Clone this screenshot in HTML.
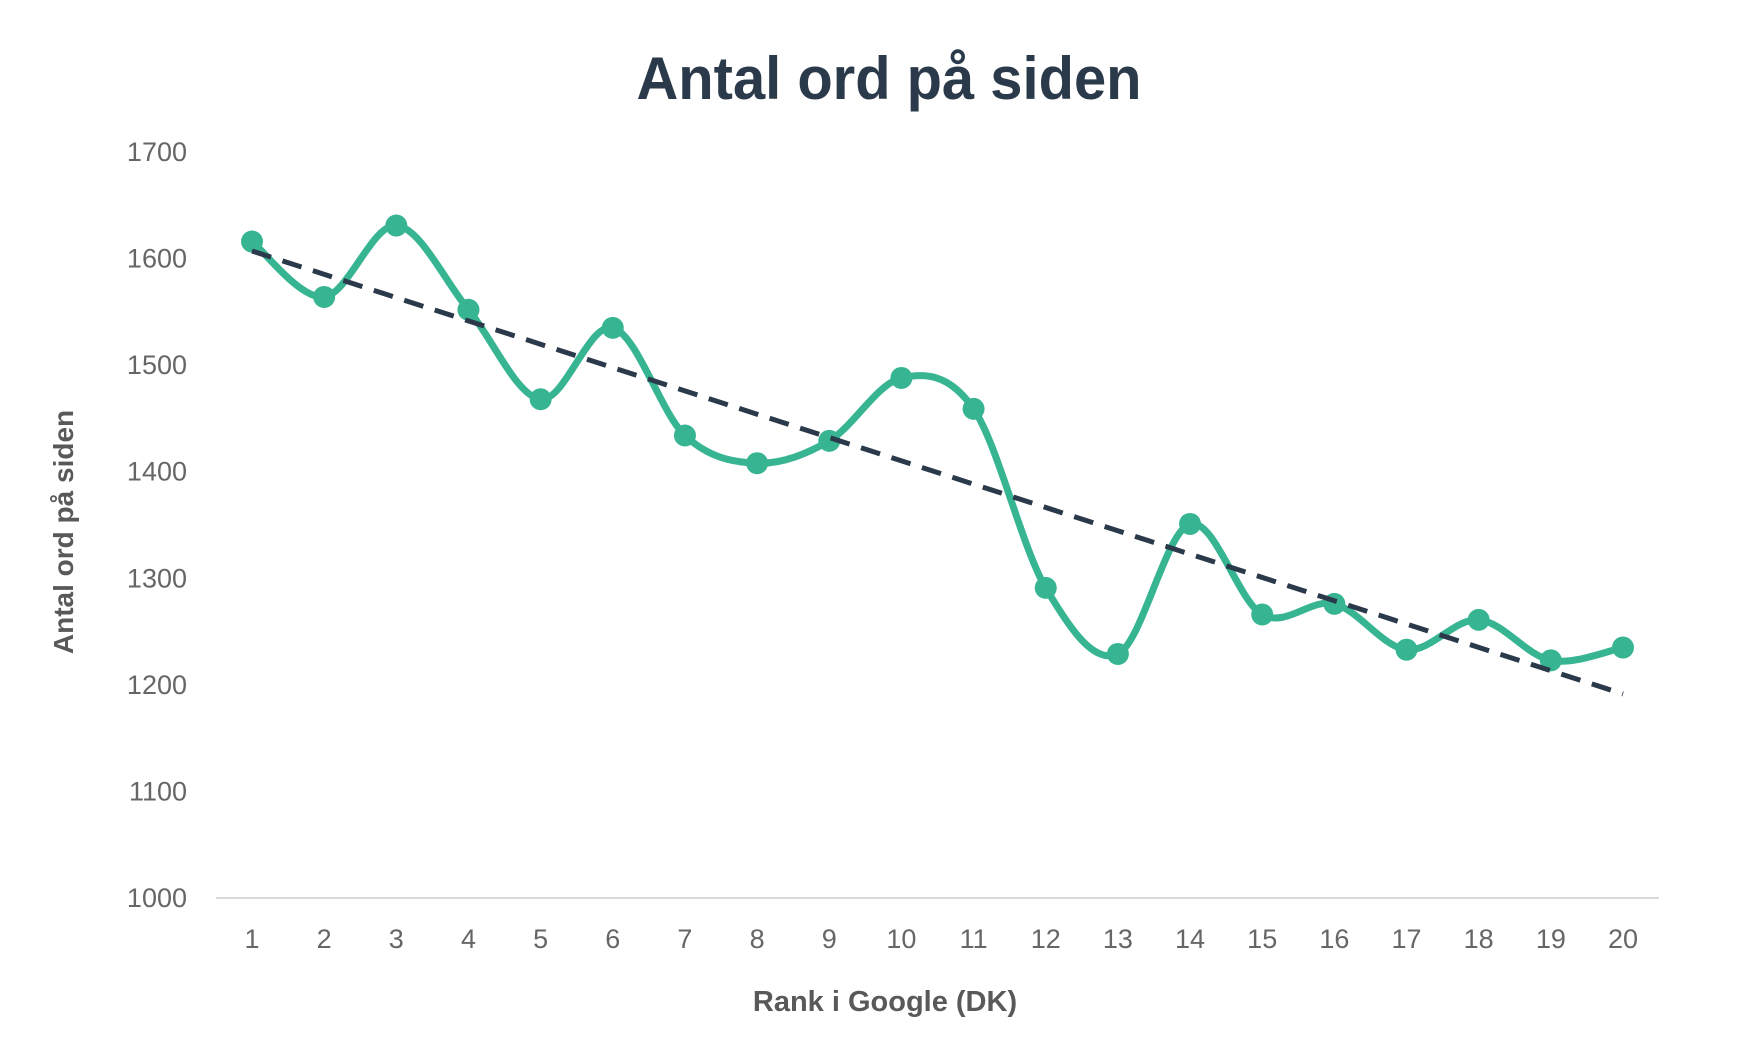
<!DOCTYPE html>
<html><head><meta charset="utf-8"><style>
html,body{margin:0;padding:0;background:#fff;}
svg{display:block;font-family:"Liberation Sans",sans-serif;}
</style></head><body>
<svg id="s" width="1755" height="1047" viewBox="0 0 1755 1047" xmlns="http://www.w3.org/2000/svg">
<text x="889" y="99" text-anchor="middle" font-size="60" fill="#2b3a4a" font-weight="bold" textLength="505" lengthAdjust="spacingAndGlyphs">Antal ord på siden</text>
<g id="yl" font-size="27" fill="#666" text-anchor="end"></g>
<line x1="216" y1="898" x2="1659" y2="898" stroke="#d9d9d9" stroke-width="2"/>
<g id="xl" font-size="27" fill="#666" text-anchor="middle"></g>
<text x="885" y="1011" text-anchor="middle" font-size="29" fill="#595959" font-weight="bold">Rank i Google (DK)</text>
<text transform="translate(73,532) rotate(-90)" text-anchor="middle" font-size="28" fill="#595959" font-weight="bold">Antal ord på siden</text>
<path id="c" fill="none" stroke="#37b592" stroke-width="7" stroke-linejoin="round"/>
<g id="m" fill="#37b592"></g>
<line x1="252" y1="251" x2="1623" y2="694" stroke="#2b3a4a" stroke-width="5" stroke-dasharray="20,12"/>
</svg>
<script>
var d=[1616,1564,1631,1552,1468,1535,1434,1408,1429,1488,1459,1291,1229,1351,1266,1276,1233,1261,1223,1235];
function X(i){return 252+i*(1623-252)/19;}
function Y(v){return 898-(v-1000)*1.0657;}
var ns="http://www.w3.org/2000/svg",yl=document.getElementById('yl'),xl=document.getElementById('xl'),m=document.getElementById('m');
for(var v=1000;v<=1700;v+=100){var t=document.createElementNS(ns,'text');t.setAttribute('x',187);t.setAttribute('y',Y(v)+9);t.textContent=v;yl.appendChild(t);}
var p=[];
for(var i=0;i<20;i++){var t=document.createElementNS(ns,'text');t.setAttribute('x',X(i));t.setAttribute('y',948);t.textContent=i+1;xl.appendChild(t);p.push([X(i),Y(d[i])]);
var c=document.createElementNS(ns,'circle');c.setAttribute('cx',X(i));c.setAttribute('cy',Y(d[i]));c.setAttribute('r',11);m.appendChild(c);}
var s="M"+p[0][0]+","+p[0][1];
for(var i=0;i<19;i++){var p0=p[Math.max(0,i-1)],p1=p[i],p2=p[i+1],p3=p[Math.min(19,i+2)];
s+=" C"+(p1[0]+(p2[0]-p0[0])/6)+","+(p1[1]+(p2[1]-p0[1])/6)+" "+(p2[0]-(p3[0]-p1[0])/6)+","+(p2[1]-(p3[1]-p1[1])/6)+" "+p2[0]+","+p2[1];}
document.getElementById('c').setAttribute('d',s);
</script>
</body></html>
